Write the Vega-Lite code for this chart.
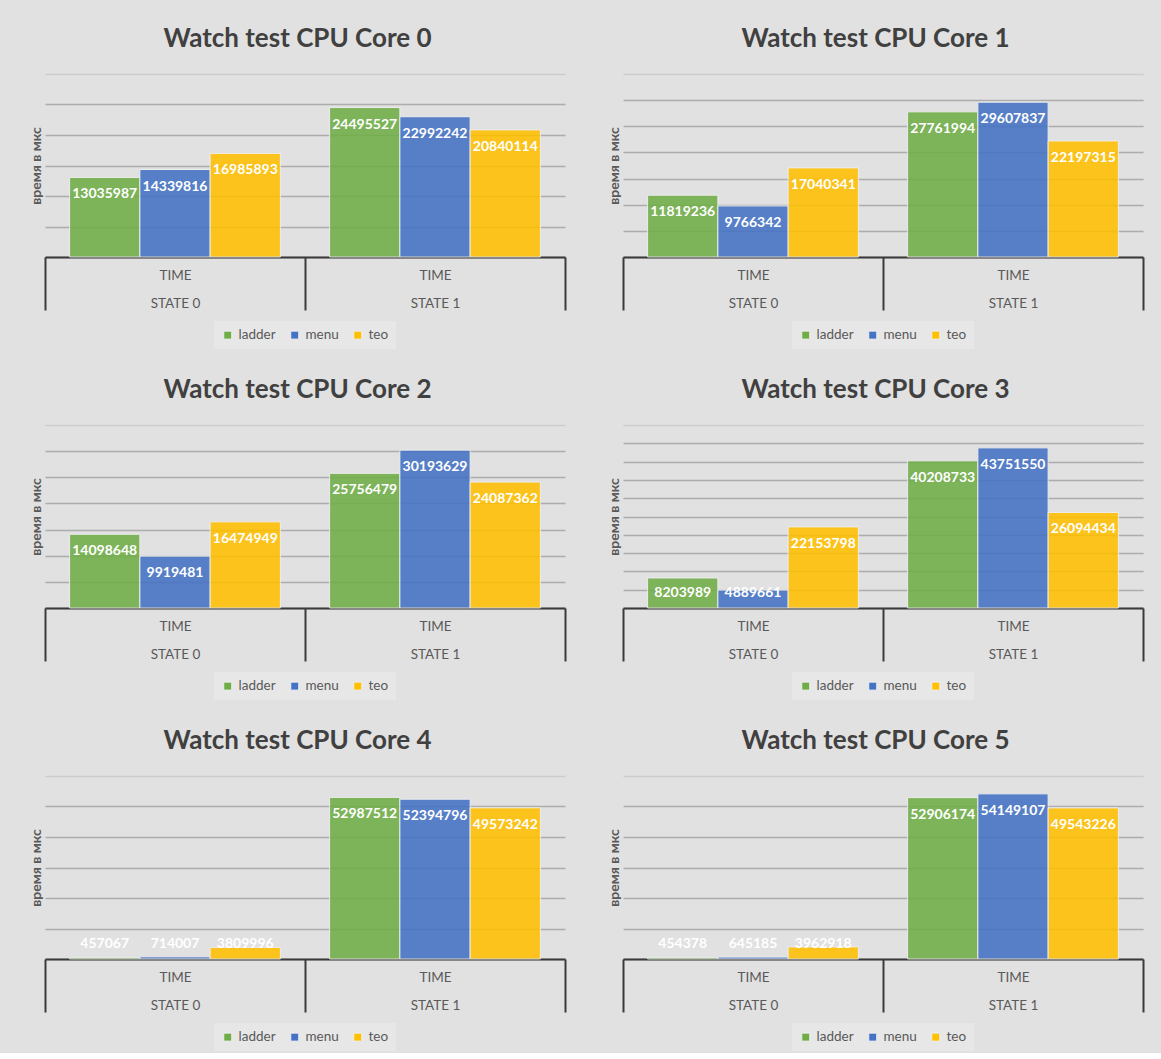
{
  "$schema": "https://vega.github.io/schema/vega-lite/v6.json",
  "background": "#e1e1e1",
  "padding": {"left": 29, "top": 26, "right": 19, "bottom": 2},
  "data": {
    "values": [
      {"core": 0, "state": "STATE 0", "series": "ladder", "value": 13035987},
      {"core": 0, "state": "STATE 0", "series": "menu", "value": 14339816},
      {"core": 0, "state": "STATE 0", "series": "teo", "value": 16985893},
      {"core": 0, "state": "STATE 1", "series": "ladder", "value": 24495527},
      {"core": 0, "state": "STATE 1", "series": "menu", "value": 22992242},
      {"core": 0, "state": "STATE 1", "series": "teo", "value": 20840114},
      {"core": 1, "state": "STATE 0", "series": "ladder", "value": 11819236},
      {"core": 1, "state": "STATE 0", "series": "menu", "value": 9766342},
      {"core": 1, "state": "STATE 0", "series": "teo", "value": 17040341},
      {"core": 1, "state": "STATE 1", "series": "ladder", "value": 27761994},
      {"core": 1, "state": "STATE 1", "series": "menu", "value": 29607837},
      {"core": 1, "state": "STATE 1", "series": "teo", "value": 22197315},
      {"core": 2, "state": "STATE 0", "series": "ladder", "value": 14098648},
      {"core": 2, "state": "STATE 0", "series": "menu", "value": 9919481},
      {"core": 2, "state": "STATE 0", "series": "teo", "value": 16474949},
      {"core": 2, "state": "STATE 1", "series": "ladder", "value": 25756479},
      {"core": 2, "state": "STATE 1", "series": "menu", "value": 30193629},
      {"core": 2, "state": "STATE 1", "series": "teo", "value": 24087362},
      {"core": 3, "state": "STATE 0", "series": "ladder", "value": 8203989},
      {"core": 3, "state": "STATE 0", "series": "menu", "value": 4889661},
      {"core": 3, "state": "STATE 0", "series": "teo", "value": 22153798},
      {"core": 3, "state": "STATE 1", "series": "ladder", "value": 40208733},
      {"core": 3, "state": "STATE 1", "series": "menu", "value": 43751550},
      {"core": 3, "state": "STATE 1", "series": "teo", "value": 26094434},
      {"core": 4, "state": "STATE 0", "series": "ladder", "value": 457067},
      {"core": 4, "state": "STATE 0", "series": "menu", "value": 714007},
      {"core": 4, "state": "STATE 0", "series": "teo", "value": 3809996},
      {"core": 4, "state": "STATE 1", "series": "ladder", "value": 52987512},
      {"core": 4, "state": "STATE 1", "series": "menu", "value": 52394796},
      {"core": 4, "state": "STATE 1", "series": "teo", "value": 49573242},
      {"core": 5, "state": "STATE 0", "series": "ladder", "value": 454378},
      {"core": 5, "state": "STATE 0", "series": "menu", "value": 645185},
      {"core": 5, "state": "STATE 0", "series": "teo", "value": 3962918},
      {"core": 5, "state": "STATE 1", "series": "ladder", "value": 52906174},
      {"core": 5, "state": "STATE 1", "series": "menu", "value": 54149107},
      {"core": 5, "state": "STATE 1", "series": "teo", "value": 49543226}
    ]
  },
  "columns": 2,
  "spacing": {"row": 28, "column": 41},
  "resolve": {"scale": {"color": "independent", "y": "independent"}, "legend": {"color": "independent"}},
  "concat": [
    {
      "title": "Watch test CPU Core 0",
      "width": 520, "height": 183,
      "transform": [{"filter": "datum.core == 0"}],
      "encoding": {
        "x": {"field": "state", "type": "nominal", "scale": {"paddingInner": 0, "paddingOuter": 0}},
        "xOffset": {"field": "series", "type": "nominal", "scale": {"paddingInner": 0, "paddingOuter": 0.35}},
        "y": {"field": "value", "type": "quantitative", "title": "время в мкс", "scale": {"domain": [0, 30000000]},
              "axis": {"values": [0, 5000000, 10000000, 15000000, 20000000, 25000000, 30000000]}}
      },
      "layer": [
        {"mark": {"type": "bar"},
         "encoding": {"color": {"field": "series", "type": "nominal",
           "scale": {"domain": ["ladder", "menu", "teo"], "range": ["#70AD47", "#4472C4", "#FFC000"]}}}},
        {"transform": [{"filter": "datum.value >= 8500000"}],
         "mark": {"type": "text", "color": "#ffffff", "fontWeight": "bold", "fontSize": 14, "baseline": "middle", "dy": 17},
         "encoding": {"text": {"field": "value", "type": "quantitative", "format": "d"}}},
        {"transform": [{"filter": "datum.value < 8500000"}],
         "mark": {"type": "text", "color": "#ffffff", "fontWeight": "bold", "fontSize": 14, "baseline": "middle", "dy": -15},
         "encoding": {"y": {"datum": 0}, "text": {"field": "value", "type": "quantitative", "format": "d"}}}
      ]
    },
    {
      "title": "Watch test CPU Core 1",
      "width": 520, "height": 183,
      "transform": [{"filter": "datum.core == 1"}],
      "encoding": {
        "x": {"field": "state", "type": "nominal", "scale": {"paddingInner": 0, "paddingOuter": 0}},
        "xOffset": {"field": "series", "type": "nominal", "scale": {"paddingInner": 0, "paddingOuter": 0.35}},
        "y": {"field": "value", "type": "quantitative", "title": "время в мкс", "scale": {"domain": [0, 35000000]},
              "axis": {"values": [0, 5000000, 10000000, 15000000, 20000000, 25000000, 30000000, 35000000]}}
      },
      "layer": [
        {"mark": {"type": "bar"},
         "encoding": {"color": {"field": "series", "type": "nominal",
           "scale": {"domain": ["ladder", "menu", "teo"], "range": ["#70AD47", "#4472C4", "#FFC000"]}}}},
        {"transform": [{"filter": "datum.value >= 8500000"}],
         "mark": {"type": "text", "color": "#ffffff", "fontWeight": "bold", "fontSize": 14, "baseline": "middle", "dy": 17},
         "encoding": {"text": {"field": "value", "type": "quantitative", "format": "d"}}},
        {"transform": [{"filter": "datum.value < 8500000"}],
         "mark": {"type": "text", "color": "#ffffff", "fontWeight": "bold", "fontSize": 14, "baseline": "middle", "dy": -15},
         "encoding": {"y": {"datum": 0}, "text": {"field": "value", "type": "quantitative", "format": "d"}}}
      ]
    },
    {
      "title": "Watch test CPU Core 2",
      "width": 520, "height": 183,
      "transform": [{"filter": "datum.core == 2"}],
      "encoding": {
        "x": {"field": "state", "type": "nominal", "scale": {"paddingInner": 0, "paddingOuter": 0}},
        "xOffset": {"field": "series", "type": "nominal", "scale": {"paddingInner": 0, "paddingOuter": 0.35}},
        "y": {"field": "value", "type": "quantitative", "title": "время в мкс", "scale": {"domain": [0, 35000000]},
              "axis": {"values": [0, 5000000, 10000000, 15000000, 20000000, 25000000, 30000000, 35000000]}}
      },
      "layer": [
        {"mark": {"type": "bar"},
         "encoding": {"color": {"field": "series", "type": "nominal",
           "scale": {"domain": ["ladder", "menu", "teo"], "range": ["#70AD47", "#4472C4", "#FFC000"]}}}},
        {"transform": [{"filter": "datum.value >= 8500000"}],
         "mark": {"type": "text", "color": "#ffffff", "fontWeight": "bold", "fontSize": 14, "baseline": "middle", "dy": 17},
         "encoding": {"text": {"field": "value", "type": "quantitative", "format": "d"}}},
        {"transform": [{"filter": "datum.value < 8500000"}],
         "mark": {"type": "text", "color": "#ffffff", "fontWeight": "bold", "fontSize": 14, "baseline": "middle", "dy": -15},
         "encoding": {"y": {"datum": 0}, "text": {"field": "value", "type": "quantitative", "format": "d"}}}
      ]
    },
    {
      "title": "Watch test CPU Core 3",
      "width": 520, "height": 183,
      "transform": [{"filter": "datum.core == 3"}],
      "encoding": {
        "x": {"field": "state", "type": "nominal", "scale": {"paddingInner": 0, "paddingOuter": 0}},
        "xOffset": {"field": "series", "type": "nominal", "scale": {"paddingInner": 0, "paddingOuter": 0.35}},
        "y": {"field": "value", "type": "quantitative", "title": "время в мкс", "scale": {"domain": [0, 50000000]},
              "axis": {"values": [0, 5000000, 10000000, 15000000, 20000000, 25000000, 30000000, 35000000, 40000000, 45000000, 50000000]}}
      },
      "layer": [
        {"mark": {"type": "bar"},
         "encoding": {"color": {"field": "series", "type": "nominal",
           "scale": {"domain": ["ladder", "menu", "teo"], "range": ["#70AD47", "#4472C4", "#FFC000"]}}}},
        {"transform": [{"filter": "datum.value >= 8500000"}],
         "mark": {"type": "text", "color": "#ffffff", "fontWeight": "bold", "fontSize": 14, "baseline": "middle", "dy": 17},
         "encoding": {"text": {"field": "value", "type": "quantitative", "format": "d"}}},
        {"transform": [{"filter": "datum.value < 8500000"}],
         "mark": {"type": "text", "color": "#ffffff", "fontWeight": "bold", "fontSize": 14, "baseline": "middle", "dy": -15},
         "encoding": {"y": {"datum": 0}, "text": {"field": "value", "type": "quantitative", "format": "d"}}}
      ]
    },
    {
      "title": "Watch test CPU Core 4",
      "width": 520, "height": 183,
      "transform": [{"filter": "datum.core == 4"}],
      "encoding": {
        "x": {"field": "state", "type": "nominal", "scale": {"paddingInner": 0, "paddingOuter": 0}},
        "xOffset": {"field": "series", "type": "nominal", "scale": {"paddingInner": 0, "paddingOuter": 0.35}},
        "y": {"field": "value", "type": "quantitative", "title": "время в мкс", "scale": {"domain": [0, 60000000]},
              "axis": {"values": [0, 10000000, 20000000, 30000000, 40000000, 50000000, 60000000]}}
      },
      "layer": [
        {"mark": {"type": "bar"},
         "encoding": {"color": {"field": "series", "type": "nominal",
           "scale": {"domain": ["ladder", "menu", "teo"], "range": ["#70AD47", "#4472C4", "#FFC000"]}}}},
        {"transform": [{"filter": "datum.value >= 8500000"}],
         "mark": {"type": "text", "color": "#ffffff", "fontWeight": "bold", "fontSize": 14, "baseline": "middle", "dy": 17},
         "encoding": {"text": {"field": "value", "type": "quantitative", "format": "d"}}},
        {"transform": [{"filter": "datum.value < 8500000"}],
         "mark": {"type": "text", "color": "#ffffff", "fontWeight": "bold", "fontSize": 14, "baseline": "middle", "dy": -15},
         "encoding": {"y": {"datum": 0}, "text": {"field": "value", "type": "quantitative", "format": "d"}}}
      ]
    },
    {
      "title": "Watch test CPU Core 5",
      "width": 520, "height": 183,
      "transform": [{"filter": "datum.core == 5"}],
      "encoding": {
        "x": {"field": "state", "type": "nominal", "scale": {"paddingInner": 0, "paddingOuter": 0}},
        "xOffset": {"field": "series", "type": "nominal", "scale": {"paddingInner": 0, "paddingOuter": 0.35}},
        "y": {"field": "value", "type": "quantitative", "title": "время в мкс", "scale": {"domain": [0, 60000000]},
              "axis": {"values": [0, 10000000, 20000000, 30000000, 40000000, 50000000, 60000000]}}
      },
      "layer": [
        {"mark": {"type": "bar"},
         "encoding": {"color": {"field": "series", "type": "nominal",
           "scale": {"domain": ["ladder", "menu", "teo"], "range": ["#70AD47", "#4472C4", "#FFC000"]}}}},
        {"transform": [{"filter": "datum.value >= 8500000"}],
         "mark": {"type": "text", "color": "#ffffff", "fontWeight": "bold", "fontSize": 14, "baseline": "middle", "dy": 17},
         "encoding": {"text": {"field": "value", "type": "quantitative", "format": "d"}}},
        {"transform": [{"filter": "datum.value < 8500000"}],
         "mark": {"type": "text", "color": "#ffffff", "fontWeight": "bold", "fontSize": 14, "baseline": "middle", "dy": -15},
         "encoding": {"y": {"datum": 0}, "text": {"field": "value", "type": "quantitative", "format": "d"}}}
      ]
    }
  ],
  "config": {
    "font": "Lato",
    "view": {"stroke": null},
    "bar": {"opacity": 0.88, "stroke": "#eeeeee", "strokeWidth": 1},
    "title": {"fontSize": 26, "fontWeight": "bold", "color": "#404040", "offset": 22, "anchor": "middle", "frame": "bounds", "font": "Lato"},
    "axisX": {
      "title": null, "labelAngle": 0, "grid": false,
      "domainColor": "#3a3a3a", "domainWidth": 2,
      "tickBand": "extent", "tickSize": 53, "tickColor": "#3a3a3a", "tickWidth": 2,
      "labelPadding": -42, "labelExpr": "length(datum.label || '') > 0 ? ['TIME', datum.label] : ''", "labelLineHeight": 28,
      "labelFontSize": 13.5, "labelColor": "#595959"
    },
    "axisY": {
      "labels": false, "ticks": false, "domain": false,
      "grid": true, "gridWidth": 1.5,
      "gridColor": {"condition": {"test": "datum.index == 1", "value": "#cdcdcd"}, "value": "#adadad"},
      "titleFontSize": 14, "titleFontWeight": "bold", "titleColor": "#595959", "titlePadding": 2
    },
    "legend": {
      "orient": "bottom", "title": null, "direction": "horizontal",
      "symbolType": "square", "symbolSize": 64, "symbolStrokeWidth": 0, "symbolOpacity": 1,
      "labelFontSize": 13.5, "labelColor": "#595959",
      "fillColor": "#e7e7e7", "padding": 7, "columnPadding": 12, "offset": 10,
      "layout": {"bottom": {"anchor": "middle"}}
    }
  }
}
